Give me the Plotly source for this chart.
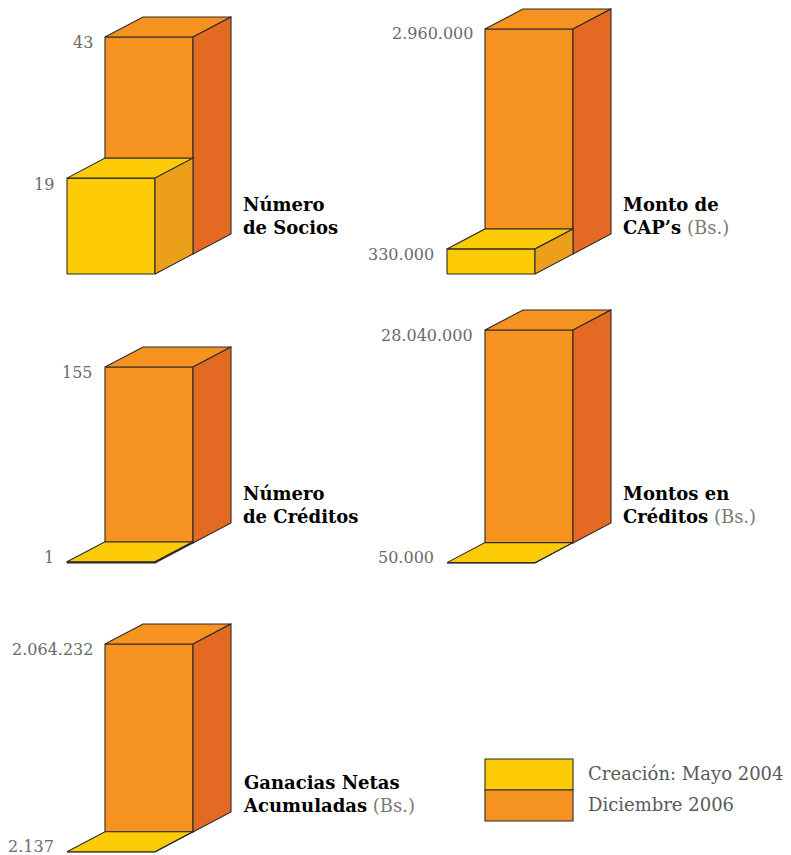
import plotly.graph_objects as go

# ---- data ----
titles = ["Número<br>de Socios", "Monto de<br>CAP’s", "Número<br>de Créditos",
          "Montos en<br>Créditos", "Ganacias Netas<br>Acumuladas"]
units = ["", "(Bs.)", "", "(Bs.)", "(Bs.)"]
creacion_2004 = [19, 330000, 1, 50000, 2137]
diciembre_2006 = [43, 2960000, 155, 28040000, 2064232]
legend_labels = ["Creación: Mayo 2004", "Diciembre 2006"]

# ---- layout / style ----
FW, FH = 791, 855
W, DX, DY, PAD = 88, 38, 20, 6
panel_left = [67, 447, 67, 447, 67]        # px of front face left
panel_base = [274, 274, 563, 563, 852]     # px of front face bottom
panel_hpx = [217, 225, 176, 213, 188]      # px height of the tallest bar

YEL, YEL_TOP, YEL_SIDE = "#FDCA06", "#FDCA06", "#EC9F1B"
ORA, ORA_TOP, ORA_SIDE = "#F6921F", "#F6921F", "#E46922"
EDGE = "#2b2b2b"
NUM_FONT = dict(family="DejaVu Serif", size=16, color="#6a6a6a")
TITLE_FONT = dict(family="DejaVu Serif", size=18, color="#000000")


def fmt(v):
    return f"{v:,}".replace(",", ".")


fig = go.Figure()
layout = {}
annotations = []


def px_x(p):
    return p / FW


def px_y(p):
    return 1 - p / FH


def poly(xs, ys, fill, xa, ya):
    fig.add_trace(go.Scatter(
        x=list(xs) + [xs[0]], y=list(ys) + [ys[0]], mode="lines", fill="toself",
        fillcolor=fill, line=dict(color=EDGE, width=1.1), hoverinfo="skip",
        showlegend=False, xaxis=xa, yaxis=ya))


def box(x0, y0, h, dxu, dyu, front, top, side, xa, ya):
    # front
    poly([x0, x0 + W, x0 + W, x0], [y0, y0, y0 + h, y0 + h], front, xa, ya)
    # top
    poly([x0, x0 + W, x0 + W + dxu, x0 + dxu],
         [y0 + h, y0 + h, y0 + h + dyu, y0 + h + dyu], top, xa, ya)
    # side
    poly([x0 + W, x0 + W + dxu, x0 + W + dxu, x0 + W],
         [y0, y0 + dyu, y0 + h + dyu, y0 + h], side, xa, ya)


for i in range(5):
    n = i + 1
    xa, ya = f"x{n}", f"y{n}"
    vy, vo = creacion_2004[i], diciembre_2006[i]
    k = panel_hpx[i] / vo          # px per unit
    dyu = DY / k
    xl, yb = panel_left[i], panel_base[i]
    pad_b = min(PAD, FH - yb - 0.5)
    top_px = yb - 2 * DY - panel_hpx[i]
    layout[f"xaxis{n}"] = dict(domain=[px_x(xl - PAD), px_x(xl + W + 2 * DX + PAD)],
                               range=[-PAD, W + 2 * DX + PAD], visible=False,
                               anchor=ya, fixedrange=True)
    layout[f"yaxis{n}"] = dict(domain=[px_y(yb + pad_b), px_y(top_px - PAD)],
                               range=[-pad_b / k, vo + 2 * dyu + PAD / k], visible=False,
                               anchor=xa, fixedrange=True)
    # orange (back) then yellow (front)
    box(DX, dyu, vo, DX, dyu, ORA, ORA_TOP, ORA_SIDE, xa, ya)
    box(0, 0, vy, DX, dyu, YEL, YEL_TOP, YEL_SIDE, xa, ya)

    # value labels (positions derived from the value scale k)
    o_lab_px = yb - DY - vo * k + 5
    y_lab_px = min(yb - vy * k + 6, yb - 6)
    annotations.append(dict(xref="paper", yref="paper", x=px_x(xl + DX - 10),
                            y=px_y(o_lab_px), text=fmt(vo), showarrow=False,
                            xanchor="right", yanchor="middle", font=NUM_FONT))
    annotations.append(dict(xref="paper", yref="paper", x=px_x(xl - 11),
                            y=px_y(y_lab_px), text=fmt(vy), showarrow=False,
                            xanchor="right", yanchor="middle", font=NUM_FONT))
    # title
    t = f"<b>{titles[i]}</b>"
    if units[i]:
        t += f" <span style='color:#7a7a7a'>{units[i]}</span>"
    annotations.append(dict(xref="paper", yref="paper", x=px_x(xl + W + 2 * DX + 10),
                            y=px_y(yb - 58), text=t, showarrow=False, xanchor="left",
                            yanchor="middle", align="left", font=TITLE_FONT))

# legend
LX0, LX1 = 485, 573
legend_rows = [(759, 790, YEL), (790, 821, ORA)]
shapes = []
for (y0, y1, c), lab in zip(legend_rows, legend_labels):
    shapes.append(dict(type="rect", xref="paper", yref="paper",
                       x0=px_x(LX0), x1=px_x(LX1), y0=px_y(y1), y1=px_y(y0),
                       fillcolor=c, line=dict(color=EDGE, width=1.1)))
    annotations.append(dict(xref="paper", yref="paper", x=px_x(586),
                            y=px_y((y0 + y1) / 2 - 1), text=lab, showarrow=False,
                            xanchor="left", yanchor="middle",
                            font=dict(family="DejaVu Serif", size=18, color="#5a5a5a")))

fig.update_layout(
    width=FW, height=FH, margin=dict(l=0, r=0, t=0, b=0),
    paper_bgcolor="white", plot_bgcolor="rgba(0,0,0,0)",
    annotations=annotations, shapes=shapes, showlegend=False, **layout)

fig.write_html("out.html", config={"displayModeBar": False},
               post_script="document.body.style.margin='0';document.body.style.overflow='hidden';")
